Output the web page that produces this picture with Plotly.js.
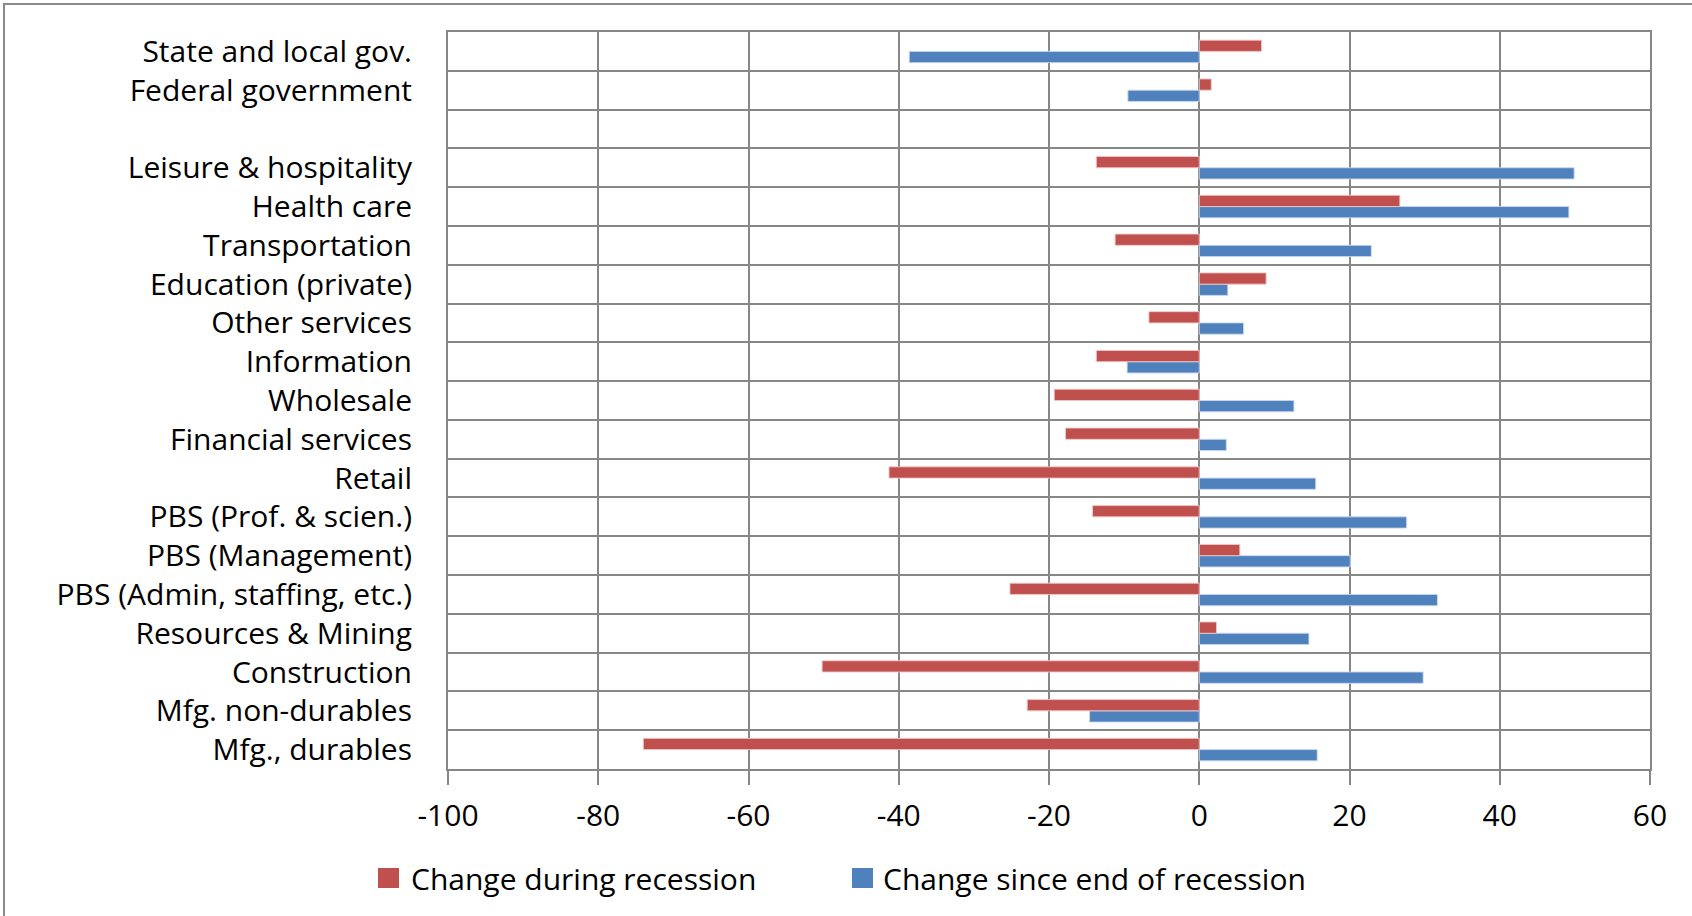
<!DOCTYPE html>
<html>
<head>
<meta charset="utf-8">
<script src="https://cdn.plot.ly/plotly-3.0.1.min.js"></script>
<style>
html,body{margin:0;padding:0;background:#fff;}
#chart{width:1692px;height:916px;}
</style>
</head>
<body>
<div id="chart"></div>
<script>
// Categories, bottom to top
const categories = [
  "Mfg., durables",
  "Mfg. non-durables",
  "Construction",
  "Resources & Mining",
  "PBS (Admin, staffing, etc.)",
  "PBS (Management)",
  "PBS (Prof. & scien.)",
  "Retail",
  "Financial services",
  "Wholesale",
  "Information",
  "Other services",
  "Education (private)",
  "Transportation",
  "Health care",
  "Leisure & hospitality",
  " ",
  "Federal government",
  "State and local gov."
];

const changeDuringRecession = [
  -74.0, -22.9, -50.2, 2.3, -25.2, 5.4, -14.2, -41.3, -17.8, -19.3,
  -13.7, -6.7, 8.9, -11.2, 26.7, -13.7, null, 1.6, 8.3
];

const changeSinceEnd = [
  15.7, -14.6, 29.8, 14.6, 31.7, 20.1, 27.6, 15.5, 3.6, 12.6,
  -9.6, 5.9, 3.8, 22.9, 49.2, 49.9, null, -9.5, -38.6
];

const xTicks = [-100, -80, -60, -40, -20, 0, 20, 40, 60];

const seriesNames = ["Change during recession", "Change since end of recession"];
const seriesColors = ["#C0504D", "#4F81BD"];

const FONT = "'Open Sans', sans-serif";
const FS = 30;
const W = 1692, H = 916;
const M = {l: 448, r: 42, t: 32, b: 147};
const pw = W - M.l - M.r, ph = H - M.t - M.b;
// pixel -> paper helpers
const px = v => (v - M.l) / pw;
const py = v => 1 - (v - M.t) / ph;

const traces = [
  {
    type: "bar", orientation: "h",
    name: seriesNames[1],
    y: categories, x: changeSinceEnd,
    marker: {color: seriesColors[1], line: {color: "rgba(200,215,240,0.9)", width: 1}},
    showlegend: false
  },
  {
    type: "bar", orientation: "h",
    name: seriesNames[0],
    y: categories, x: changeDuringRecession,
    marker: {color: seriesColors[0], line: {color: "rgba(240,200,200,0.9)", width: 1}},
    showlegend: false
  }
];

// legend geometry (pixels)
const legendY = 878;
const legendItems = [
  {sq: 378, txt: 409},
  {sq: 852, txt: 881}
];
const sqW = 21, sqH = 20;

const shapes = [
  {
    type: "rect", xref: "paper", yref: "paper",
    x0: px(4), x1: px(W + 20),
    y0: py(H + 20), y1: py(4),
    line: {color: "#8a8a8a", width: 2},
    fillcolor: "rgba(0,0,0,0)",
    layer: "below"
  }
];
const annotations = [];
legendItems.forEach((it, i) => {
  shapes.push({
    type: "rect", xref: "paper", yref: "paper",
    x0: px(it.sq), x1: px(it.sq + sqW),
    y0: py(legendY + sqH / 2), y1: py(legendY - sqH / 2),
    line: {width: 0}, fillcolor: seriesColors[i]
  });
  annotations.push({
    xref: "paper", yref: "paper",
    x: px(it.txt), y: py(legendY),
    xanchor: "left", yanchor: "middle",
    text: seriesNames[i], showarrow: false,
    font: {family: FONT, size: FS, color: "#000"}
  });
});

const layout = {
  width: W, height: H,
  margin: M,
  paper_bgcolor: "#fff",
  plot_bgcolor: "#fff",
  barmode: "group",
  bargap: 0.42,
  bargroupgap: 0,
  font: {family: FONT, color: "#000", size: FS},
  showlegend: false,
  xaxis: {
    range: [-100, 60],
    tickvals: xTicks,
    ticktext: xTicks.map(String),
    showgrid: true,
    gridcolor: "#878787",
    gridwidth: 2,
    zeroline: true,
    zerolinecolor: "#878787",
    zerolinewidth: 2,
    showline: true,
    linecolor: "#878787",
    linewidth: 2,
    mirror: true,
    ticks: "outside",
    ticklen: 14,
    tickwidth: 2,
    tickcolor: "#878787",
    ticklabelstandoff: 5,
    tickfont: {family: FONT, size: FS, color: "#000"},
    automargin: false,
    fixedrange: true
  },
  yaxis: {
    type: "category",
    categoryorder: "array",
    categoryarray: categories,
    tickson: "boundaries",
    showgrid: true,
    gridcolor: "#878787",
    gridwidth: 2,
    showline: true,
    linecolor: "#878787",
    linewidth: 2,
    mirror: true,
    ticks: "",
    ticklabelstandoff: 28,
    tickfont: {family: FONT, size: FS, color: "#000"},
    automargin: false,
    fixedrange: true
  },
  shapes: shapes,
  annotations: annotations
};

Plotly.newPlot("chart", traces, layout, {displayModeBar: false, staticPlot: true});
</script>
</body>
</html>
